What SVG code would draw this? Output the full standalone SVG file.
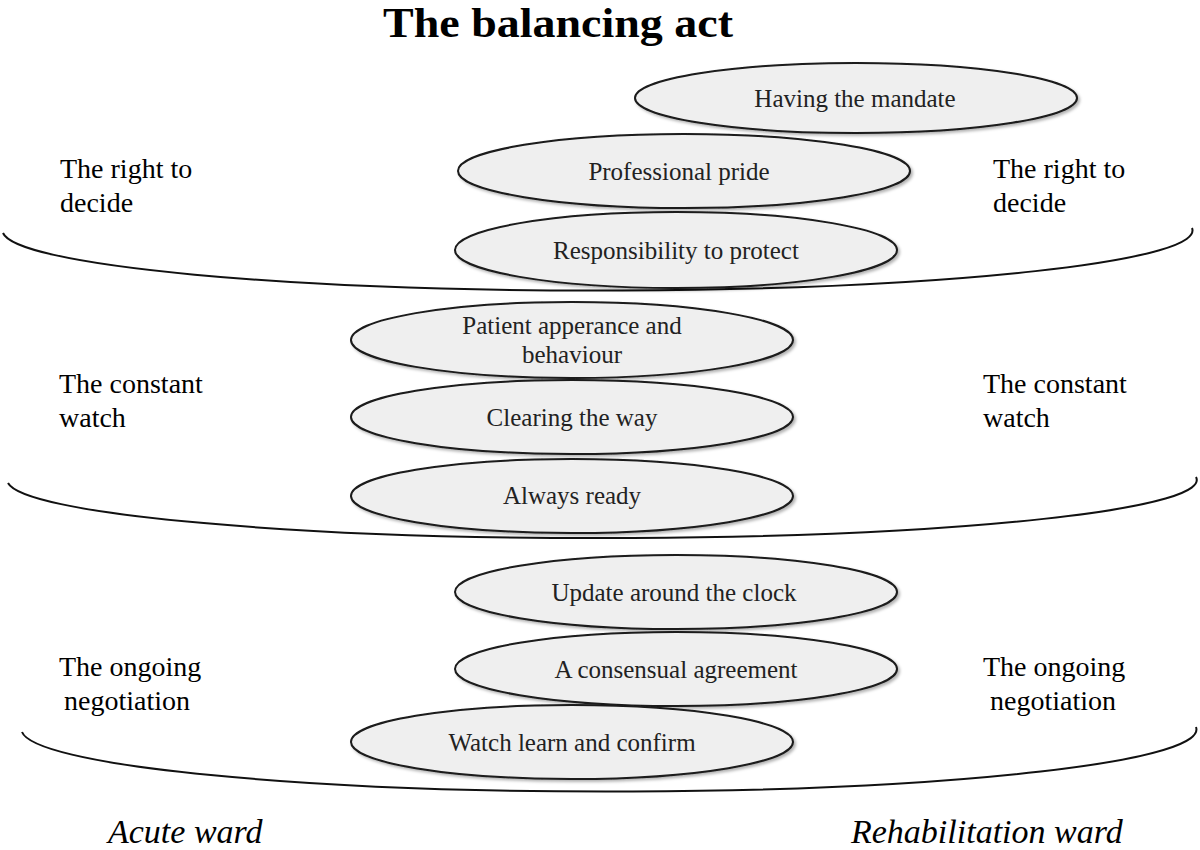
<svg xmlns="http://www.w3.org/2000/svg" width="1200" height="850" viewBox="0 0 1200 850">
<defs>
<style>
.el{fill:#efefef;stroke:#1a1a1a;stroke-width:2}
.arc{fill:none;stroke:#111;stroke-width:2}
.t{font-family:"Liberation Serif","Times New Roman",serif;fill:#000}
.et{font-family:"Liberation Serif","Times New Roman",serif;fill:#222;font-size:25px;text-anchor:middle}
.side{font-size:28px}
.ward{font-size:34px;font-style:italic}
</style>
<filter id="sh" x="-5%" y="-10%" width="115%" height="130%">
<feDropShadow dx="2" dy="2" stdDeviation="1.5" flood-color="#000" flood-opacity="0.3"/>
</filter>
</defs>
<rect width="1200" height="850" fill="#fff"/>
<text class="t" x="383" y="37" font-size="42" font-weight="bold" textLength="350" lengthAdjust="spacingAndGlyphs">The balancing act</text>

<g id="connectors">
<path class="arc" d="M 3 233 A 595 60 0 0 0 1192 228"/>
<path class="arc" d="M 8 483 A 594 58 0 0 0 1196 477"/>
<path class="arc" d="M 22 732 A 587 62 0 0 0 1196 727"/>
</g>

<g id="n-mandate"><ellipse class="el" filter="url(#sh)" cx="856" cy="98" rx="221" ry="35"/><text class="et" x="855" y="107">Having the mandate</text></g>
<g id="n-pride"><ellipse class="el" filter="url(#sh)" cx="684" cy="171" rx="226" ry="37"/><text class="et" x="679" y="180">Professional pride</text></g>
<g id="n-protect"><ellipse class="el" filter="url(#sh)" cx="676" cy="250" rx="221" ry="38"/><text class="et" x="676" y="259">Responsibility to protect</text></g>
<g id="n-patient"><ellipse class="el" filter="url(#sh)" cx="572" cy="340" rx="221" ry="38"/><text class="et" x="572" y="334">Patient apperance and</text><text class="et" x="572" y="363">behaviour</text></g>
<g id="n-clearing"><ellipse class="el" filter="url(#sh)" cx="572" cy="417" rx="221" ry="37"/><text class="et" x="572" y="426">Clearing the way</text></g>
<g id="n-ready"><ellipse class="el" filter="url(#sh)" cx="572" cy="496" rx="221" ry="37"/><text class="et" x="572" y="504">Always ready</text></g>
<g id="n-update"><ellipse class="el" filter="url(#sh)" cx="676" cy="592" rx="221" ry="37"/><text class="et" x="674" y="601">Update around the clock</text></g>
<g id="n-consensual"><ellipse class="el" filter="url(#sh)" cx="676" cy="669" rx="221" ry="37"/><text class="et" x="676" y="678">A consensual agreement</text></g>
<g id="n-watch"><ellipse class="el" filter="url(#sh)" cx="572" cy="742" rx="221" ry="37"/><text class="et" x="572" y="751">Watch learn and confirm</text></g>

<g id="labels-left">
<text class="t side" x="60" y="178">The right to</text>
<text class="t side" x="60" y="212">decide</text>
<text class="t side" x="59" y="393">The constant</text>
<text class="t side" x="59" y="427">watch</text>
<text class="t side" x="59" y="676">The ongoing</text>
<text class="t side" x="64" y="710">negotiation</text>
</g>
<g id="labels-right">
<text class="t side" x="993" y="178">The right to</text>
<text class="t side" x="993" y="212">decide</text>
<text class="t side" x="983" y="393">The constant</text>
<text class="t side" x="983" y="427">watch</text>
<text class="t side" x="983" y="676">The ongoing</text>
<text class="t side" x="990" y="710">negotiation</text>
</g>
<g id="wards">
<text class="t ward" x="108" y="843">Acute ward</text>
<text class="t ward" x="851" y="843">Rehabilitation ward</text>
</g>
</svg>
